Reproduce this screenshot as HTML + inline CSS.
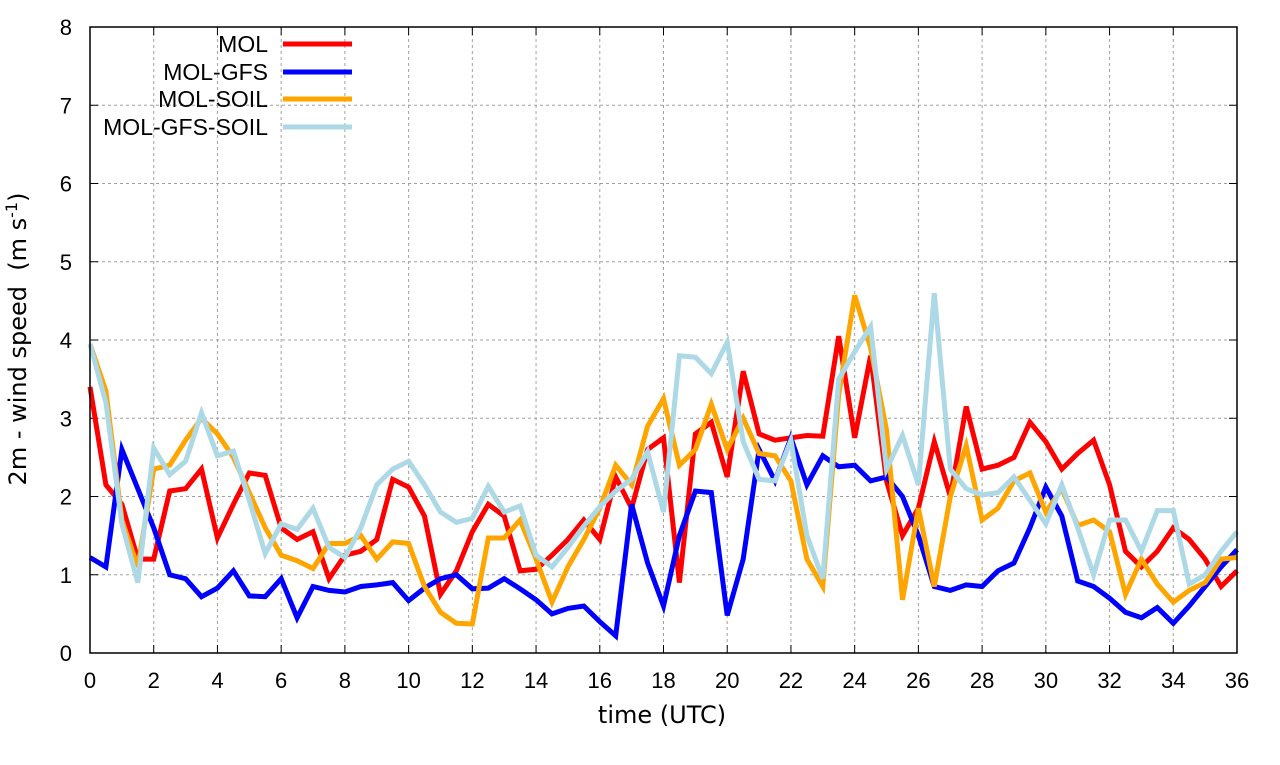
<!DOCTYPE html>
<html><head><meta charset="utf-8"><style>
body{margin:0;background:#fff}
text{font-family:"Liberation Sans",sans-serif;fill:#000}
.dv{font-family:"DejaVu Sans",sans-serif}
</style></head><body>
<svg id="s" width="1280" height="760" xmlns="http://www.w3.org/2000/svg">
<g id="grid" stroke="#a0a0a0" stroke-width="1" stroke-dasharray="3,3"></g>
<g id="ticks" stroke="#000" stroke-width="1"></g>
<g id="lab" font-size="22"></g>
<g id="series" fill="none" stroke-width="5" stroke-linejoin="miter"></g>
<rect x="90" y="27" width="1147" height="626" fill="none" stroke="#000" stroke-width="1.5"/>
<text class="dv" x="662" y="723" font-size="24" text-anchor="middle">time (UTC)</text>
<text class="dv" transform="translate(26,339) rotate(-90)" font-size="24" text-anchor="middle" xml:space="preserve">2m - wind speed  (m s<tspan dy="-9" font-size="16">-1</tspan><tspan dy="9">)</tspan></text>
<g font-size="23" text-anchor="end">
<text x="268" y="52">MOL</text><text x="268" y="80">MOL-GFS</text>
<text x="268" y="107">MOL-SOIL</text><text x="268" y="135">MOL-GFS-SOIL</text>
</g>
<g stroke-width="5">
<line x1="283" y1="44" x2="352" y2="44" stroke="#ff0000"/>
<line x1="283" y1="72" x2="352" y2="72" stroke="#0000ff"/>
<line x1="283" y1="99" x2="352" y2="99" stroke="#ffa500"/>
<line x1="283" y1="127" x2="352" y2="127" stroke="#add8e6"/>
</g>
</svg>
<script>
var X=function(t){return 90+t*(1147/36)},Y=function(v){return 653-v*78.25};
var ns="http://www.w3.org/2000/svg";
function el(p,n,a,txt){var e=document.createElementNS(ns,n);for(var k in a)e.setAttribute(k,a[k]);if(txt!=null)e.textContent=txt;document.getElementById(p).appendChild(e);}
for(var t=0;t<=36;t+=2){var x=X(t);if(t>0&&t<36)el("grid","line",{x1:x,y1:27,x2:x,y2:653});
el("ticks","line",{x1:x,y1:653,x2:x,y2:645});el("ticks","line",{x1:x,y1:27,x2:x,y2:35});
el("lab","text",{x:x,y:688,"text-anchor":"middle"},t);}
for(var v=0;v<=8;v++){var y=Y(v);if(v>0&&v<8)el("grid","line",{x1:90,y1:y,x2:1237,y2:y});
el("ticks","line",{x1:90,y1:y,x2:98,y2:y});el("ticks","line",{x1:1237,y1:y,x2:1229,y2:y});
el("lab","text",{x:72,y:y+8,"text-anchor":"end"},v);}
var D={
"#ff0000":[3.4,2.15,1.9,1.2,1.2,2.07,2.1,2.35,1.47,1.9,2.3,2.27,1.6,1.45,1.55,0.95,1.25,1.3,1.45,2.22,2.12,1.75,0.75,1.05,1.55,1.9,1.75,1.05,1.07,1.25,1.45,1.7,1.45,2.25,1.85,2.6,2.75,0.9,2.8,2.95,2.25,3.6,2.8,2.72,2.75,2.78,2.77,4.05,2.75,3.8,2.2,1.5,1.85,2.7,2.0,3.15,2.35,2.4,2.5,2.95,2.7,2.35,2.55,2.72,2.15,1.3,1.1,1.3,1.6,1.45,1.2,0.85,1.05],
"#0000ff":[1.22,1.1,2.6,2.1,1.6,1.0,0.95,0.72,0.83,1.05,0.73,0.72,0.95,0.45,0.85,0.8,0.78,0.85,0.87,0.9,0.67,0.83,0.95,1.0,0.82,0.83,0.95,0.82,0.68,0.5,0.57,0.6,0.4,0.22,1.9,1.15,0.6,1.5,2.07,2.05,0.48,1.2,2.6,2.2,2.75,2.15,2.52,2.38,2.4,2.2,2.25,2.0,1.5,0.85,0.8,0.87,0.85,1.05,1.15,1.6,2.12,1.75,0.92,0.85,0.7,0.52,0.45,0.58,0.38,0.6,0.85,1.1,1.32],
"#ffa500":[3.95,3.35,1.7,1.1,2.35,2.4,2.72,3.0,2.8,2.5,2.05,1.6,1.25,1.18,1.08,1.4,1.4,1.5,1.2,1.42,1.4,0.85,0.52,0.38,0.37,1.47,1.47,1.7,1.2,0.65,1.1,1.45,1.85,2.4,2.15,2.9,3.25,2.4,2.6,3.18,2.6,3.0,2.55,2.52,2.2,1.2,0.85,3.3,4.57,3.9,2.85,0.68,1.85,0.85,2.0,2.65,1.7,1.85,2.2,2.3,1.8,2.1,1.63,1.7,1.55,0.75,1.2,0.88,0.65,0.8,0.9,1.2,1.22],
"#add8e6":[3.95,3.2,1.65,0.9,2.62,2.28,2.45,3.07,2.52,2.58,1.95,1.27,1.65,1.58,1.85,1.35,1.22,1.6,2.15,2.35,2.45,2.15,1.8,1.67,1.72,2.13,1.8,1.88,1.25,1.1,1.35,1.62,1.87,2.07,2.22,2.57,1.8,3.8,3.78,3.57,3.97,2.7,2.22,2.2,2.72,1.5,0.95,3.5,3.85,4.17,2.35,2.78,2.15,4.6,2.35,2.1,2.02,2.05,2.25,1.95,1.65,2.15,1.6,1.0,1.7,1.7,1.3,1.82,1.82,0.88,1.0,1.3,1.55]};
for(var c in D){var p=D[c].map(function(v,i){return X(i/2).toFixed(1)+","+Y(v).toFixed(1)}).join(" ");
el("series","polyline",{points:p,stroke:c});}
</script>
</body></html>
